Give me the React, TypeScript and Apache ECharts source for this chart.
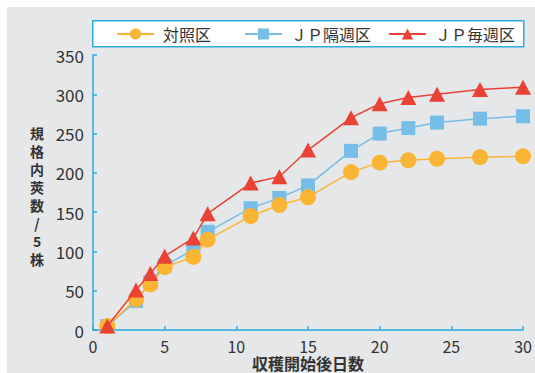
import React, { useEffect, useRef } from "react";
import * as echarts from "echarts";

const days = [1, 3, 4, 5, 7, 8, 11, 13, 15, 18, 20, 22, 24, 27, 30];
const controlValues = [5, 39, 58, 80, 93, 115, 145, 159, 169, 201, 213, 216, 218, 220, 221];
const biweeklyValues = [5, 37, 61, 82, 102, 125, 155, 168, 184, 228, 250, 257, 264, 269, 272];
const weeklyValues = [5, 51, 72, 94, 117, 148, 187, 195, 229, 270, 288, 296, 300, 306, 309];
const seriesNames = ["対照区", "ＪＰ隔週区", "ＪＰ毎週区"];
const xTitle = "収穫開始後日数";
const yTitleChars = ["規", "格", "内", "莢", "数", "/", "5", "株"];

const FONT = "'Noto Sans CJK JP', 'Noto Sans', sans-serif";
const AXIS_BLUE = "#2aabe2";
const ORANGE = "#fbb534";
const BLUE = "#76bde8";
const RED = "#ea4234";

export default function App() {
  const ref = useRef<HTMLDivElement>(null);
  useEffect(() => {
    if (!ref.current) return;
    const chart = echarts.init(ref.current, null, { renderer: "svg" });
    const pts = (vals: number[]) => days.map((d, i) => [d, vals[i]]);
    const legendBase = {
      top: 19,
      padding: 0,
      itemWidth: 37,
      itemHeight: 14,
      textStyle: { fontSize: 16, color: "#333", fontFamily: FONT, padding: [0, 0, 0, 4] },
      selectedMode: false,
    };
    const yTitle = yTitleChars.map((ch, i) => ({
      type: "text",
      x: 30,
      y: 126 + i * 18,
      style: {
        text: ch,
        font: `bold 14px ${FONT}`,
        lineHeight: 15,
        fill: "#333",
        align: "center",
        verticalAlign: "middle",
      },
    }));
    chart.setOption({
      animation: false,
      backgroundColor: "#e6e7e8",
      textStyle: { fontFamily: FONT },
      grid: { left: 86, top: 48, width: 430, height: 275, outerBoundsMode: "none", containLabel: false },
      legend: [
        { ...legendBase, data: [seriesNames[0]], left: 109 },
        { ...legendBase, data: [seriesNames[1]], left: 237 },
        { ...legendBase, data: [seriesNames[2]], left: 381 },
      ],
      graphic: [
        {
          type: "rect",
          left: 85,
          top: 13,
          z: 0,
          shape: { width: 431, height: 26 },
          style: { fill: "#ffffff", stroke: AXIS_BLUE, lineWidth: 1.5 },
        },
        ...yTitle,
      ],
      xAxis: {
        type: "value",
        min: 0,
        max: 30,
        interval: 5,
        name: xTitle,
        nameLocation: "middle",
        nameGap: 25,
        nameMoveOverlap: false,
        nameTextStyle: {
          fontSize: 16,
          lineHeight: 16,
          fontWeight: "bold",
          color: "#333",
          fontFamily: FONT,
          verticalAlign: "top",
        },
        axisLine: { lineStyle: { color: AXIS_BLUE, width: 1.5 } },
        axisTick: { inside: true, length: 4, lineStyle: { color: AXIS_BLUE, width: 1.5 } },
        axisLabel: { fontSize: 16, lineHeight: 16, color: "#333", margin: 8, fontFamily: FONT },
        splitLine: { show: false },
      },
      yAxis: {
        type: "value",
        min: 0,
        max: 350,
        interval: 50,
        axisLine: { show: true, lineStyle: { color: AXIS_BLUE, width: 1.5 } },
        axisTick: { show: true, inside: true, length: 4, lineStyle: { color: AXIS_BLUE, width: 1.5 } },
        axisLabel: { fontSize: 17, color: "#333", margin: 9, fontFamily: FONT },
        splitLine: { show: false },
      },
      series: [
        {
          name: seriesNames[1],
          type: "line",
          data: pts(biweeklyValues),
          symbol: "rect",
          symbolSize: 14,
          z: 2,
          itemStyle: { color: BLUE },
          lineStyle: { color: BLUE, width: 1.5 },
        },
        {
          name: seriesNames[0],
          type: "line",
          data: pts(controlValues),
          symbol: "circle",
          symbolSize: 16,
          z: 3,
          itemStyle: { color: ORANGE },
          lineStyle: { color: ORANGE, width: 1.5 },
        },
        {
          name: seriesNames[2],
          type: "line",
          data: pts(weeklyValues),
          symbol: "triangle",
          symbolSize: [16, 15],
          z: 4,
          itemStyle: { color: RED },
          lineStyle: { color: RED, width: 1.5 },
        },
      ],
    });
    return () => chart.dispose();
  }, []);
  return (
    <div
      ref={ref}
      style={{ position: "fixed", left: 7, top: 7, width: 528, height: 366 }}
    />
  );
}
